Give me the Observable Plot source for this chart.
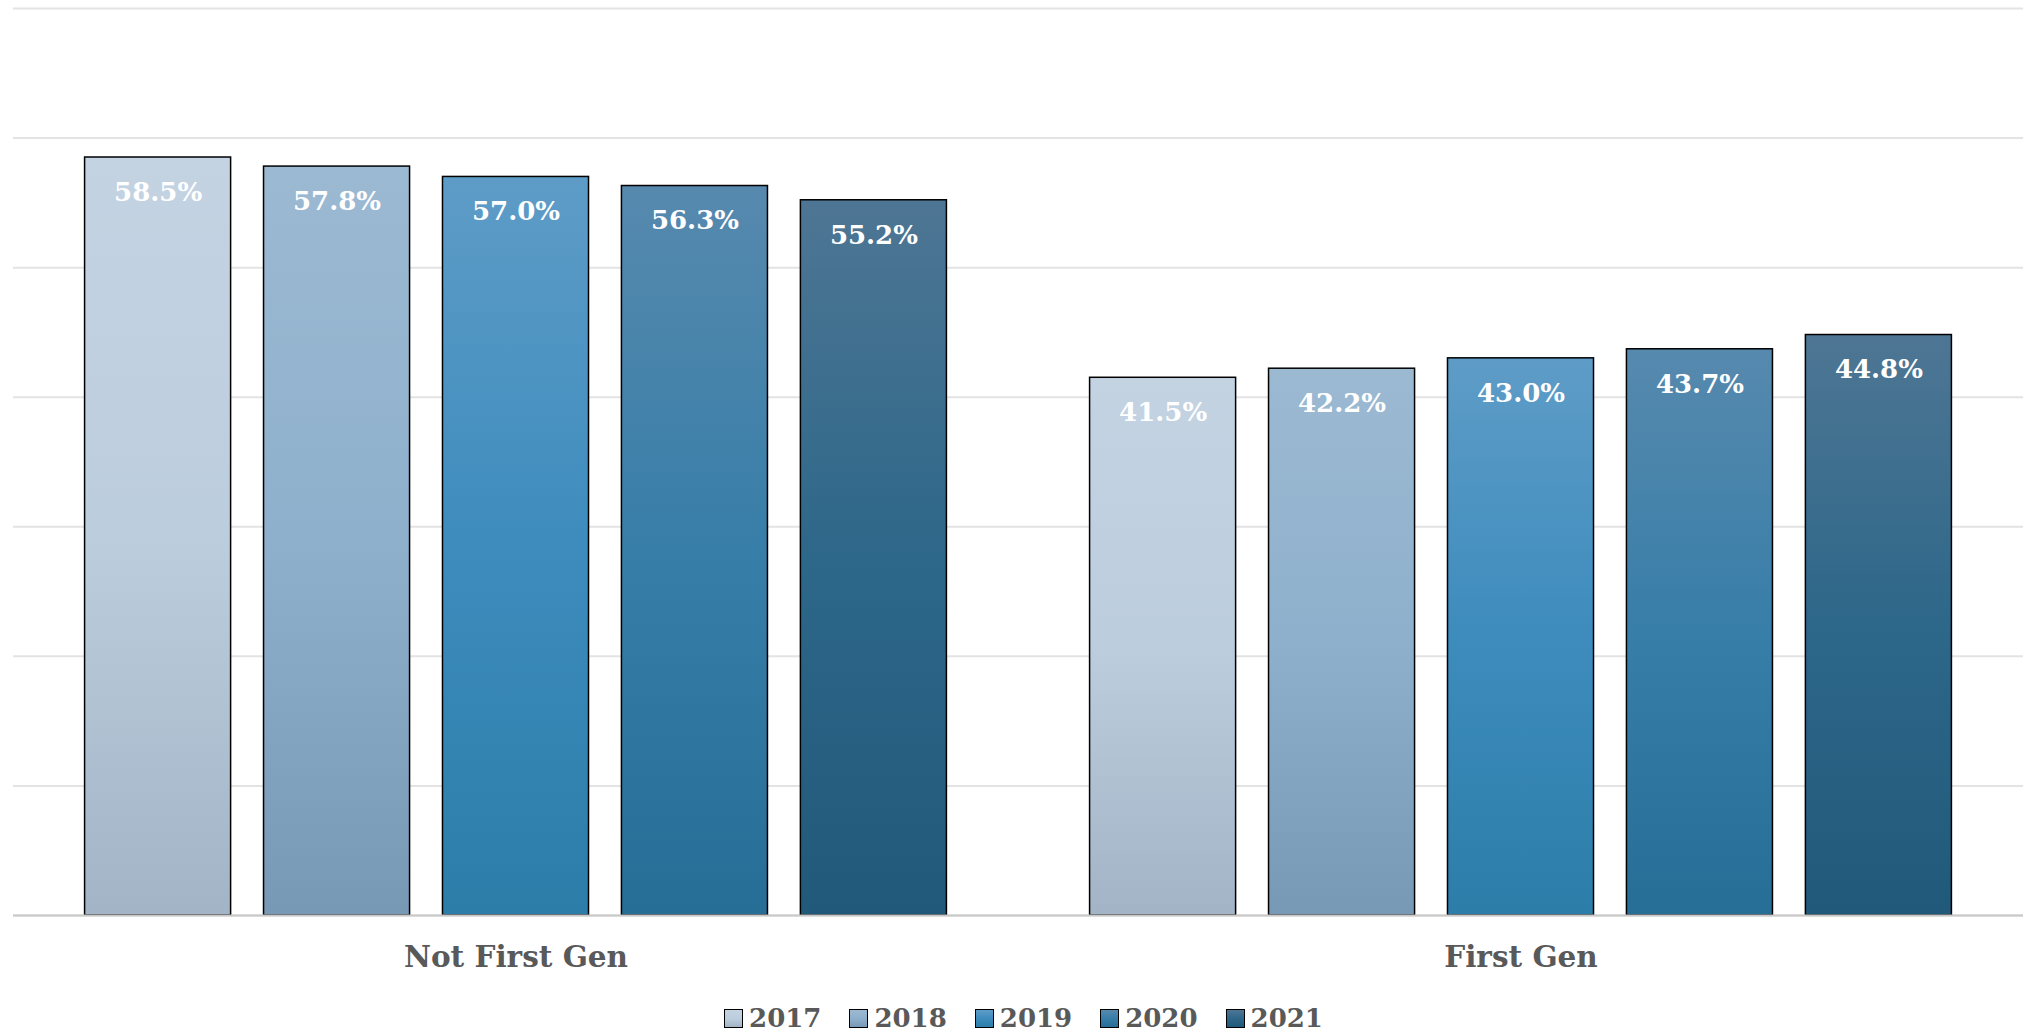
<!DOCTYPE html>
<html>
<head>
<meta charset="utf-8">
<script src="https://cdn.jsdelivr.net/npm/d3@7"></script>
<script src="https://cdn.jsdelivr.net/npm/@observablehq/plot@0.6"></script>
<style>
  html, body { margin: 0; padding: 0; background: #fff; }
  #chart { width: 2023px; }
  .legend { display: flex; justify-content: center; align-items: center; height: 44px; font-family: "DejaVu Serif", serif; font-weight: bold; font-size: 26px; color: #595959; padding-left: 24px; }
  .legend .item { display: flex; align-items: center; margin: 0 14px; }
  .legend .sw { width: 17px; height: 17px; border: 1.5px solid #000; margin-right: 6px; }
</style>
</head>
<body>
<div id="chart"></div>
<script>
const groups = ["Not First Gen", "First Gen"];
const years = ["2017", "2018", "2019", "2020", "2021"];
const notFirstGen = [58.5, 57.8, 57.0, 56.3, 55.2];
const firstGen = [41.5, 42.2, 43.0, 43.7, 44.8];
const yTicks = [0, 10, 20, 30, 40, 50, 60, 70];
// gradient stops (top, middle, bottom) per year
const gradTop = ["#c4d3e2", "#9cb9d2", "#5e9cc7", "#5789ae", "#4e7694"];
const gradMid = ["#bccdde", "#8eb0cc", "#3d8cbd", "#377ea8", "#2d6789"];
const gradBot = ["#a3b4c6", "#7899b6", "#2d7da9", "#276e97", "#21597a"];

const data = [];
groups.forEach((g, gi) => {
  const vals = gi === 0 ? notFirstGen : firstGen;
  years.forEach((y, i) => data.push({group: g, year: y, value: vals[i]}));
});

const plot = Plot.plot({
  width: 2023,
  height: 996,
  marginTop: 8,
  marginBottom: 81,
  marginLeft: 13,
  marginRight: 0,
  style: {fontFamily: "DejaVu Serif, serif", background: "#fff"},
  fx: {domain: groups, padding: 0, label: null, round: false},
  x: {domain: years, paddingInner: 0.184, paddingOuter: 0.4, axis: null, round: false},
  y: {domain: [0, 70], axis: null},
  marks: [
    Plot.ruleY(yTicks, {stroke: "#e3e3e3", strokeWidth: 2}),
    ...years.map((yr, i) => Plot.barY(data.filter(d => d.year === yr), {
      fx: "group", x: "year", y: "value",
      fill: `url(#grad${yr})`, stroke: "#000", strokeWidth: 1.5
    })),
    Plot.ruleY([0], {stroke: "#c8c8c8", strokeWidth: 2}),
    Plot.text(data, {
      fx: "group", x: "year", y: "value",
      text: d => d.value.toFixed(1) + "%",
      dy: 35, fill: "#fff", fontSize: 26, fontWeight: "bold"
    }),
    Plot.axisFx({anchor: "bottom", tickSize: 0, tickPadding: 31, fontSize: 29.5, fontWeight: "bold", fill: "#595959", label: null})
  ]
});

const svg = d3.select(plot);
const defs = svg.insert("defs", ":first-child");
years.forEach((yr, i) => {
  const g = defs.append("linearGradient").attr("id", "grad" + yr)
    .attr("x1", 0).attr("y1", 0).attr("x2", 0).attr("y2", 1);
  g.append("stop").attr("offset", "0%").attr("stop-color", gradTop[i]);
  g.append("stop").attr("offset", "50%").attr("stop-color", gradMid[i]);
  g.append("stop").attr("offset", "100%").attr("stop-color", gradBot[i]);
});
document.getElementById("chart").appendChild(plot);

const legend = d3.select("#chart").append("div").attr("class", "legend");
years.forEach((yr, i) => {
  const it = legend.append("div").attr("class", "item");
  it.append("div").attr("class", "sw")
    .style("background", `linear-gradient(${gradTop[i]}, ${gradMid[i]}, ${gradBot[i]})`);
  it.append("span").text(yr);
});
</script>
</body>
</html>
